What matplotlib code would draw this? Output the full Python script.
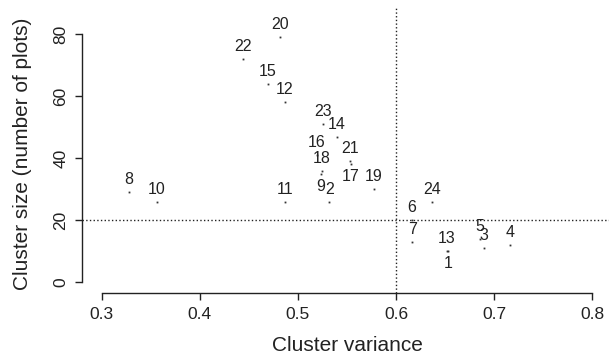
import matplotlib
matplotlib.use('Agg')
import matplotlib.pyplot as plt

plt.rcParams['font.family'] = ['Liberation Sans', 'DejaVu Sans']

# cluster id, variance, size (number of plots)
ids = [1, 2, 3, 4, 5, 6, 7, 8, 9, 10, 11, 12,
       13, 14, 15, 16, 17, 18, 19, 20, 21, 22, 23, 24]
variance = [0.6535, 0.532, 0.690, 0.716, 0.6856, 0.6163, 0.6168, 0.3275,
            0.5235, 0.3561, 0.4869, 0.4869, 0.6517, 0.540, 0.4695, 0.519,
            0.5538, 0.5243, 0.5773, 0.4818, 0.5534, 0.444, 0.5259, 0.6367]
size = [10, 26, 11, 12, 14, 20, 13, 29, 35, 26, 26, 58,
        10, 47, 64, 41, 38, 36, 30, 79, 39, 72, 51, 26]
# labels drawn below the point instead of above
below = [1, 9, 17]

var_cut = 0.6
size_cut = 20

fig = plt.figure(figsize=(6.09, 3.6), dpi=100)
ax = fig.add_axes([0.1348, 0.1861, 0.8698, 0.7917])

ax.plot(variance, size, 's', ms=1.3, color='#333333', mec='none')
for i, x, y in zip(ids, variance, size):
    dy = -9 if i in below else 9
    ax.annotate(str(i), (x, y), xytext=(0, dy), textcoords='offset points',
                ha='center', va='center', fontsize=11.5, color='#222222')

ax.axhline(size_cut, ls=':', lw=1, color='#222222')
ax.axvline(var_cut, ls=':', lw=1, color='#222222')

ax.set_xlim(0.28, 0.82)
ax.set_ylim(-3.4, 88.4)

for s in ['top', 'right']:
    ax.spines[s].set_visible(False)
ax.spines['left'].set_bounds(0, 80)
ax.spines['bottom'].set_bounds(0.3, 0.8)
for s in ['left', 'bottom']:
    ax.spines[s].set_linewidth(1.0)
    ax.spines[s].set_color('#222222')

ax.set_xticks([0.3, 0.4, 0.5, 0.6, 0.7, 0.8])
ax.set_xticklabels(['0.3', '0.4', '0.5', '0.6', '0.7', '0.8'])
ax.set_yticks([0, 20, 40, 60, 80])
ax.tick_params(direction='out', length=5, width=1.0, color='#222222',
               labelsize=12.5, labelcolor='#222222', pad=5)
for lab in ax.get_yticklabels():
    lab.set_rotation(90)
    lab.set_va('center')

ax.set_xlabel('Cluster variance', fontsize=15, color='#222222', va='center')
ax.xaxis.set_label_coords(0.5, -0.1825)
ax.set_ylabel('Cluster size (number of plots)', fontsize=15, color='#222222',
              va='center')
ax.yaxis.set_label_coords(-0.1116, 0.4877)

fig.savefig('out.png', dpi=100)
